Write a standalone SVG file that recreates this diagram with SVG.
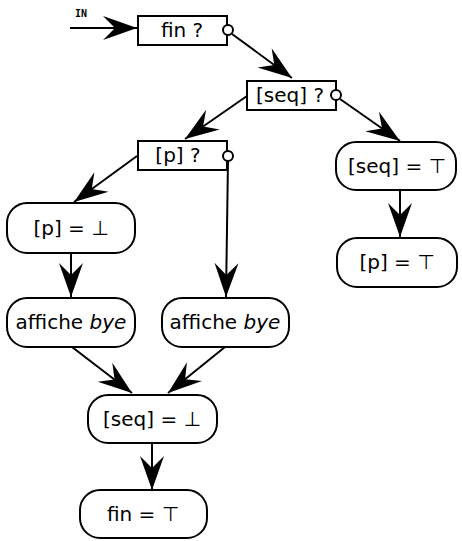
<svg xmlns="http://www.w3.org/2000/svg" width="462" height="541" viewBox="0 0 462 541">
  <style>
    .box { fill: #fff; stroke: #000; stroke-width: 2; }
    .lbl { font-family: "DejaVu Sans", sans-serif; font-size: 20px; fill: #000; text-anchor: middle; dominant-baseline: central; }
    .edge { fill: none; stroke: #000; stroke-width: 2; marker-end: url(#head); }
    .port { fill: #fff; stroke: #000; stroke-width: 2; }
  </style>
  <defs>
    <marker id="head" markerUnits="userSpaceOnUse" markerWidth="38" markerHeight="28" viewBox="-36 -14 38 28" refX="0" refY="0" orient="auto">
      <path d="M0,0 L-34,-12 L-22,0 L-34,12 Z" fill="#000"/>
    </marker>
  </defs>

  <!-- connectors -->
  <g id="edges">
    <path class="edge" d="M70,28 L137,28"/>
    <path class="edge" d="M232,34 L292,78"/>
    <path class="edge" d="M247,96 L185,139"/>
    <path class="edge" d="M340,99 L400,141"/>
    <path class="edge" d="M400,190 L400,237"/>
    <path class="edge" d="M137,156 L74,202"/>
    <path class="edge" d="M228,160 L226,297"/>
    <path class="edge" d="M71,253 L71,297"/>
    <path class="edge" d="M72,347 L132,393"/>
    <path class="edge" d="M225,347 L168,393"/>
    <path class="edge" d="M152,443 L152,490"/>
  </g>

  <text x="81" y="13" font-family="DejaVu Sans Mono, monospace" font-size="10" font-weight="bold" text-anchor="middle" dominant-baseline="central">IN</text>

  <g id="test-fin">
    <rect class="box" x="138" y="16" width="89" height="29"/>
    <text class="lbl" x="182" y="30">fin ?</text>
    <circle class="port" cx="228" cy="30" r="5"/>
  </g>

  <g id="test-seq">
    <rect class="box" x="247" y="81" width="89" height="29"/>
    <text class="lbl" x="290" y="95">[seq] ?</text>
    <circle class="port" cx="336" cy="95" r="5"/>
  </g>

  <g id="test-p">
    <rect class="box" x="138" y="141" width="89" height="29"/>
    <text class="lbl" x="178" y="155">[p] ?</text>
    <circle class="port" cx="228" cy="156" r="5"/>
  </g>

  <g id="seq-top">
    <rect class="box" x="336" y="142" width="120" height="48" rx="20"/>
    <text class="lbl" x="397" y="166">[seq] = ⊤</text>
  </g>

  <g id="p-top">
    <rect class="box" x="337" y="238" width="120" height="49" rx="20"/>
    <text class="lbl" x="397" y="262">[p] = ⊤</text>
  </g>

  <g id="p-bot">
    <rect class="box" x="7" y="203" width="128" height="50" rx="20"/>
    <text class="lbl" x="71" y="228">[p] = ⊥</text>
  </g>

  <g id="bye-left">
    <rect class="box" x="7" y="298" width="128" height="49" rx="20"/>
    <text class="lbl" x="71" y="322">affiche <tspan font-style="italic">bye</tspan></text>
  </g>

  <g id="bye-right">
    <rect class="box" x="162" y="298" width="127" height="49" rx="20"/>
    <text class="lbl" x="225" y="322">affiche <tspan font-style="italic">bye</tspan></text>
  </g>

  <g id="seq-bot">
    <rect class="box" x="88" y="395" width="129" height="48" rx="20"/>
    <text class="lbl" x="152" y="419">[seq] = ⊥</text>
  </g>

  <g id="fin-top">
    <rect class="box" x="80" y="490" width="127" height="48" rx="20"/>
    <text class="lbl" x="143" y="514">fin = ⊤</text>
  </g>
</svg>
